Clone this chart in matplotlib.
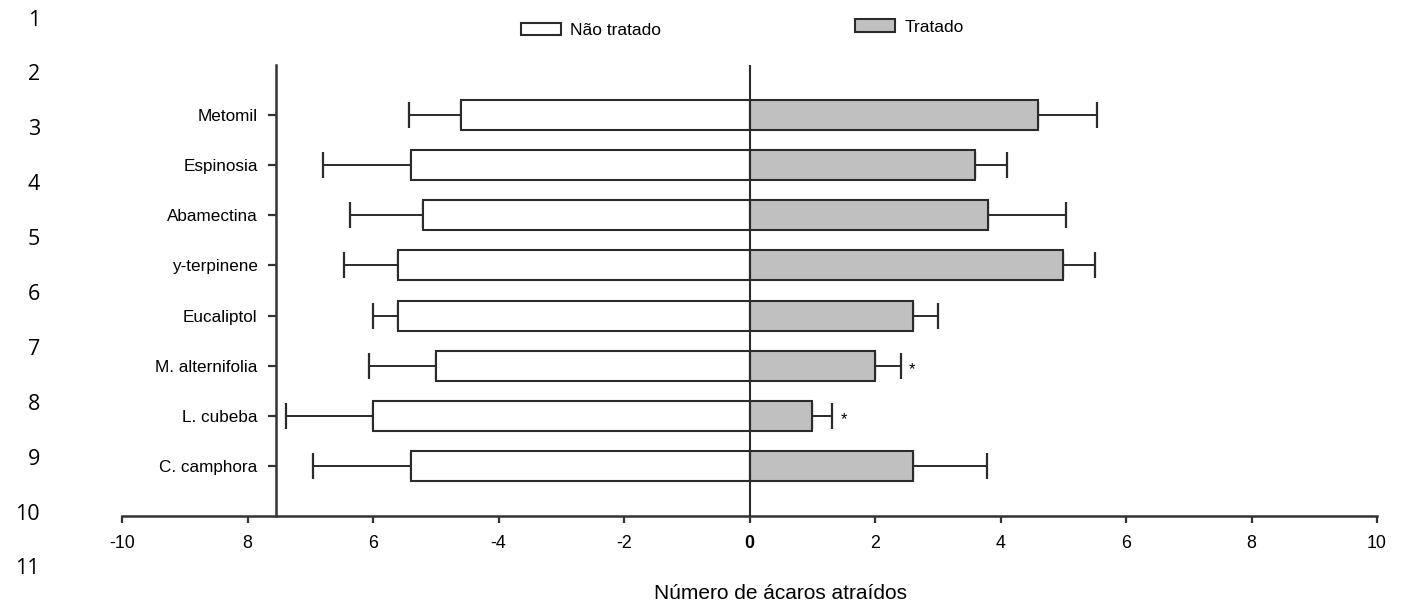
import numpy as np
import matplotlib.pyplot as plt

plt.rcParams['font.family'] = ['Liberation Sans', 'DejaVu Sans']

tratamentos = ['Metomil', 'Espinosia', 'Abamectina', 'y-terpinene',
               'Eucaliptol', 'M. alternifolia', 'L. cubeba', 'C. camphora']
nao_tratado = [4.6, 5.4, 5.2, 5.6, 5.6, 5.0, 6.0, 5.4]
nao_tratado_ep = [0.82, 1.4, 1.16, 0.87, 0.4, 1.07, 1.38, 1.55]
tratado = [4.6, 3.6, 3.8, 5.0, 2.6, 2.0, 1.0, 2.6]
tratado_ep = [0.93, 0.51, 1.25, 0.51, 0.4, 0.41, 0.32, 1.18]
signif = [False, False, False, False, False, True, True, False]

xticks = [-10, -8, -6, -4, -2, 0, 2, 4, 6, 8, 10]
xticklabels = ['-10', '8', '6', '-4', '-2', '0', '2', '4', '6', '8', '10']
linhas = list(range(1, 12))

fig = plt.figure(figsize=(14.03, 6.07), dpi=100)
ax = fig.add_axes([0.0870, 0.1499, 0.8945, 0.7430])

# eixo y deslocado (antes de definir os rótulos, pois recria os ticks)
ax.spines['top'].set_visible(False)
ax.spines['right'].set_visible(False)
ax.spines['left'].set_position(('data', -7.55))
for sp in ('left', 'bottom'):
    ax.spines[sp].set_linewidth(1.8)
    ax.spines[sp].set_color('#333333')

y = np.arange(len(tratamentos))
nt = -np.array(nao_tratado)
tr = np.array(tratado)

ax.barh(y, nt, height=0.6, color='white', edgecolor='#2b2b2b',
        linewidth=1.5, label='Não tratado', zorder=2)
ax.barh(y, tr, height=0.6, color='#c0c0c0', edgecolor='#2b2b2b',
        linewidth=1.5, label='Tratado', zorder=2)

ekw = dict(fmt='none', ecolor='#2b2b2b', elinewidth=1.4, capsize=9.5,
           capthick=1.6, zorder=1)
ax.errorbar(nt, y, xerr=[nao_tratado_ep, np.zeros(len(y))], **ekw)
ax.errorbar(tr, y, xerr=[np.zeros(len(y)), tratado_ep], **ekw)

for i, s in enumerate(signif):
    if s:
        ax.text(tr[i] + tratado_ep[i] + 0.13, i + 0.08, '*',
                ha='left', va='center', fontsize=12)

ax.axvline(0, color='#2b2b2b', linewidth=1.5, zorder=3)

ax.set_xlim(-10, 10)
ax.set_ylim(8, -1)
ax.set_yticks(y)
ax.set_yticklabels(tratamentos)
ax.set_xticks(xticks)
ax.set_xticklabels(xticklabels)
ax.tick_params(axis='y', length=6, width=1.6, color='#333333', pad=7,
               labelsize=12.3)
ax.tick_params(axis='x', length=5, width=1.6, color='#333333', pad=8.5,
               labelsize=12.8)
ax.get_xticklabels()[5].set_fontweight('bold')

fig.text(0.556, 0.023, 'Número de ácaros atraídos', ha='center',
         va='center', fontsize=15)

# legenda em duas partes, como no original
h, l = ax.get_legend_handles_labels()
lkw = dict(frameon=False, fontsize=12.5, handlelength=2.3, handleheight=0.75,
           handletextpad=0.55, borderpad=0, borderaxespad=0)
fig.legend([h[0]], [l[0]], loc='center left',
           bbox_to_anchor=(0.3713, 0.9498), **lkw)
fig.legend([h[1]], [l[1]], loc='center left',
           bbox_to_anchor=(0.6094, 0.9555), **lkw)

# numeração de linhas do documento
for k, n in enumerate(linhas):
    fig.text(40 / 1403, 1 - (20 + 54.9 * k) / 607, str(n), ha='right',
             va='center', fontsize=15.5, family=['Open Sans', 'DejaVu Sans'])

fig.savefig('out.png', dpi=100)
